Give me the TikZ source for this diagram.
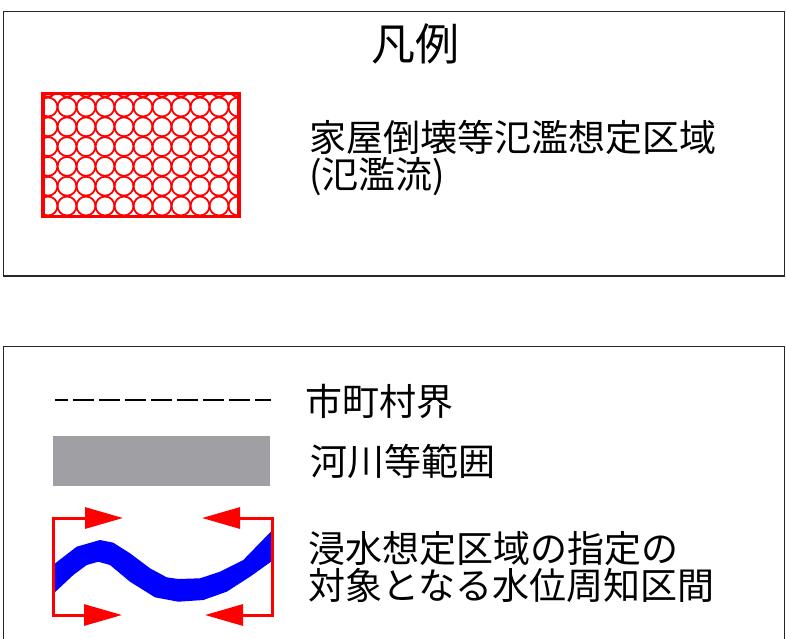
\documentclass[tikz,border=0pt]{standalone}
\usepackage{fontspec}
\newfontfamily\jp{Noto Sans CJK JP}
\usetikzlibrary{arrows.meta}
\definecolor{rivergray}{RGB}{160,159,164}
\tikzset{
  frame/.style={draw=black!85, line width=1.6pt},
  label/.style={anchor=west, inner sep=0pt, align=left, font=\jp\fontsize{37}{37}\selectfont},
  hatchborder/.style={draw=red, line width=3.6pt},
  hatchcircle/.style={draw=red, line width=1.8pt},
  bracket/.style={draw=red, line width=3pt, line join=miter,
    {Triangle[length=38pt,width=21pt]}-{Triangle[length=38pt,width=21pt]}},
  border/.style={draw=black, line width=2.6pt, dash pattern=on 20.7pt off 5.3pt, dash phase=7.7pt}
}
\begin{document}
\begin{tikzpicture}[x=1pt,y=-1pt]
\useasboundingbox (0,0) rectangle (786,638);
\fill[white] (0,0) rectangle (786,638);
% top frame
\draw[frame] (3.5,11.5) rectangle (784.5,276);
\node[inner sep=0pt, font=\jp\fontsize{44}{44}\selectfont] (title) at (415,44) {凡例};
% hatched rectangle
\begin{scope}
  \clip (43,93.5) rectangle (239,216.5);
  \foreach \i in {-1,...,10}{
    \foreach \j in {-1,...,6}{
      \draw[hatchcircle] (67+19*\i, 107+19.8*\j) circle (9.5);
    }
  }
\end{scope}
\draw[hatchborder] (43,93.5) rectangle (239,216.5);
\node[label] (t1) at (309,158) {家屋倒壊等氾濫想定区域\\(氾濫流)};
% bottom frame
\draw[frame] (3.5,645) -- (3.5,346.5) -- (784.5,346.5) -- (784.5,645);
% municipal boundary
\coordinate (b1) at (55,400);
\coordinate (b2) at (271,400);
\draw[border] (b1) -- (b2);
\node[label] (t2) at (305,401) {市町村界};
% river area
\fill[rivergray] (53,436) rectangle (270,486);
\node[label] (t3) at (310,461) {河川等範囲};
% water level section symbol
\fill[blue] (53,565) -- (76.7,546.7) -- (100,540) -- (113.3,542.7) -- (130,553.3) -- (150,568.3) -- (166.7,577.3) -- (178.3,579) -- (200,578.3) -- (220,571.7) -- (243.3,560) -- (272,530.5)
  -- (272,561) -- (250,576.7) -- (226.7,591.7) -- (203.3,600) -- (178.3,601.7) -- (155,597.3) -- (130,581.7) -- (110,565) -- (98.3,561.7) -- (86.7,565) -- (73.3,575) -- (53,594) -- cycle;
\coordinate (l1) at (123,518);
\coordinate (l2) at (53,518);
\coordinate (l3) at (53,615);
\coordinate (l4) at (122,615);
\coordinate (r1) at (202,518);
\coordinate (r2) at (272,518);
\coordinate (r3) at (272,615);
\coordinate (r4) at (205,615);
\draw[bracket] (l1) -- (l2) -- (l3) -- (l4);
\draw[bracket] (r1) -- (r2) -- (r3) -- (r4);
\node[label] (t4) at (308,567) {浸水想定区域の指定の\\対象となる水位周知区間};
\end{tikzpicture}
\end{document}
